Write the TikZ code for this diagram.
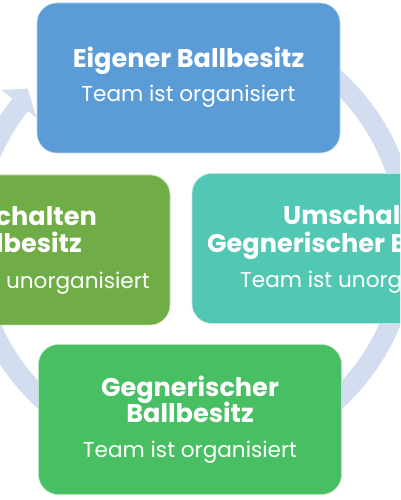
\documentclass[tikz,border=0pt]{standalone}
\usepackage{fontspec}
\setmainfont{Poppins}
\usetikzlibrary{calc}
\definecolor{ringc}{HTML}{D3DDF0}
\definecolor{blueA}{HTML}{5B9BD6}
\definecolor{greenL}{HTML}{70AD47}
\definecolor{tealR}{HTML}{52C8B4}
\definecolor{greenB}{HTML}{48BF63}
\tikzset{
  box/.style={rounded corners=20pt, minimum width=303pt, minimum height=150pt, draw=white!60!#1, line width=0.6pt, fill=#1, inner sep=0pt},
  ttl/.style={text=white, font=\bfseries\fontsize{25.6}{25.6}\selectfont, inner sep=0pt},
  sub/.style={text=white, font=\fontsize{21.6}{21.6}\selectfont, inner sep=0pt}
}
\begin{document}
\begin{tikzpicture}[x=1pt,y=1pt]
\useasboundingbox (0,0) rectangle (400,500);
\clip (0,0) rectangle (400,500);
\fill[white] (0,0) rectangle (400,500);
% circular arrow ring
\coordinate (c) at (190,260);
\draw[ringc, line width=20pt] ($(c)+(110:217)$) arc[start angle=110, end angle=-218.5, radius=217];
\fill[ringc] ($(c)+(141.5:196)$) -- ($(c)+(137:222)$) -- ($(c)+(141.5:241)$) -- cycle;
% boxes
\node[box=blueA] (top) at (188.5,422) {};
\node[box=greenL] (left) at (18.5,250) {};
\node[box=tealR] (right) at (343.5,251.5) {};
\node[box=greenB] (bottom) at (190,80.5) {};
% texts top
\node[ttl, anchor=base] (t1) at (188.5,432) {Eigener Ballbesitz};
\node[sub, anchor=base] (t2) at (188.5,398) {Team ist organisiert};
% texts left
\node[ttl, anchor=base east] (l1) at (97,274) {Umschalten};
\node[ttl, anchor=base east] (l2) at (82,247) {Eigener Ballbesitz};
\node[sub, anchor=base east] (l3) at (150,211) {Team ist unorganisiert};
% texts right
\node[ttl, anchor=base west] (r1) at (283,275) {Umschalten};
\node[ttl, anchor=base west] (r2) at (207,247) {Gegnerischer Ballbesitz};
\node[sub, anchor=base west] (r3) at (240,212) {Team ist unorganisiert};
% texts bottom
\node[ttl, anchor=base] (b1) at (190,103) {Gegnerischer};
\node[ttl, anchor=base] (b2) at (190,77) {Ballbesitz};
\node[sub, anchor=base] (b3) at (190,42) {Team ist organisiert};
\end{tikzpicture}
\end{document}
